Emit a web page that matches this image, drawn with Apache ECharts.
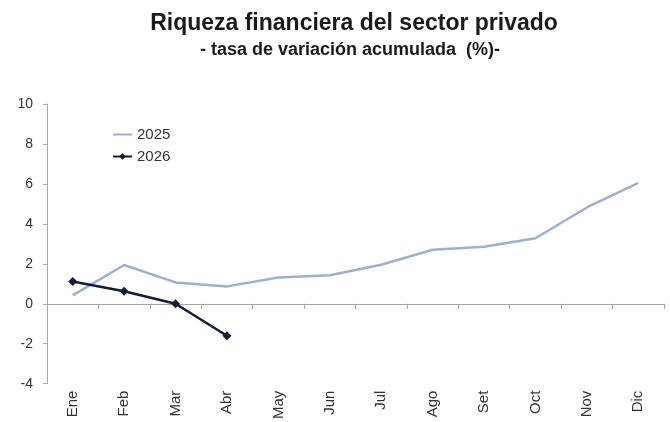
<!DOCTYPE html>
<html>
<head>
<meta charset="utf-8">
<script src="https://cdn.jsdelivr.net/npm/echarts@6/dist/echarts.min.js"></script>
<style>
html,body{margin:0;padding:0;background:#fff;}
#chart{width:670px;height:422px;}
</style>
</head>
<body>
<div id="chart"></div>
<script>
let meses = ['Ene','Feb','Mar','Abr','May','Jun','Jul','Ago','Set','Oct','Nov','Dic'];
let serie2025 = [0.42, 1.94, 1.07, 0.87, 1.31, 1.43, 1.95, 2.70, 2.85, 3.28, 4.82, 6.05];
let serie2026 = [1.11, 0.63, 0.0, -1.6];
let yTicks = {min: -4, max: 10, interval: 2};

let chart = echarts.init(document.getElementById('chart'));

let ejeGris = '#a6a6a6';
let fuente = 'Liberation Sans, Arial, sans-serif';

let option = {
    animation: false,
    title: [
        {
            text: 'Riqueza financiera del sector privado',
            left: 349,
            top: 7,
            textAlign: 'center',
            textStyle: {fontFamily: fuente, fontSize: 23, fontWeight: 'bold', color: '#1a1a1a'}
        },
        {
            text: '- tasa de variación acumulada  (%)-',
            left: 345,
            top: 36,
            textAlign: 'center',
            textStyle: {fontFamily: fuente, fontSize: 18, fontWeight: 'bold', color: '#1a1a1a'}
        }
    ],
    legend: {
        orient: 'vertical',
        left: 107,
        top: 122,
        itemWidth: 19,
        itemHeight: 8,
        itemGap: 7,
        textStyle: {fontFamily: fuente, fontSize: 15, color: '#333'},
        data: [{name: '2025', itemStyle: {opacity: 0}}, '2026']
    },
    grid: {left: 47, right: 6, top: 104, bottom: 36},
    xAxis: [
        {
            type: 'category',
            data: meses,
            boundaryGap: true,
            axisLine: {onZero: true, lineStyle: {color: ejeGris, width: 1}},
            axisTick: {show: true, length: 5, lineStyle: {color: ejeGris}},
            axisLabel: {show: false}
        },
        {
            type: 'category',
            data: meses,
            position: 'bottom',
            boundaryGap: true,
            axisLine: {show: false, onZero: false},
            axisTick: {show: false},
            axisLabel: {rotate: 90, margin: 7, fontFamily: fuente, fontSize: 15, color: '#333'}
        }
    ],
    yAxis: {
        type: 'value',
        min: yTicks.min,
        max: yTicks.max,
        interval: yTicks.interval,
        axisLine: {show: true, lineStyle: {color: ejeGris}},
        axisTick: {show: true, length: 4, lineStyle: {color: ejeGris}},
        axisLabel: {margin: 14, fontFamily: fuente, fontSize: 14, color: '#333'},
        splitLine: {show: false}
    },
    series: [
        {
            name: '2025',
            type: 'line',
            data: serie2025,
            symbol: 'none',
            color: '#9cb0d2',
            lineStyle: {width: 2.5, color: '#9cb0d2'}
        },
        {
            name: '2026',
            type: 'line',
            data: serie2026,
            symbol: 'diamond',
            symbolSize: 9,
            color: '#0f1d3a',
            itemStyle: {color: '#0f1d3a'},
            lineStyle: {width: 2.5, color: '#0f1d3a'}
        }
    ]
};

chart.setOption(option);
window.addEventListener('resize', function () {chart.resize();});
</script>
</body>
</html>
